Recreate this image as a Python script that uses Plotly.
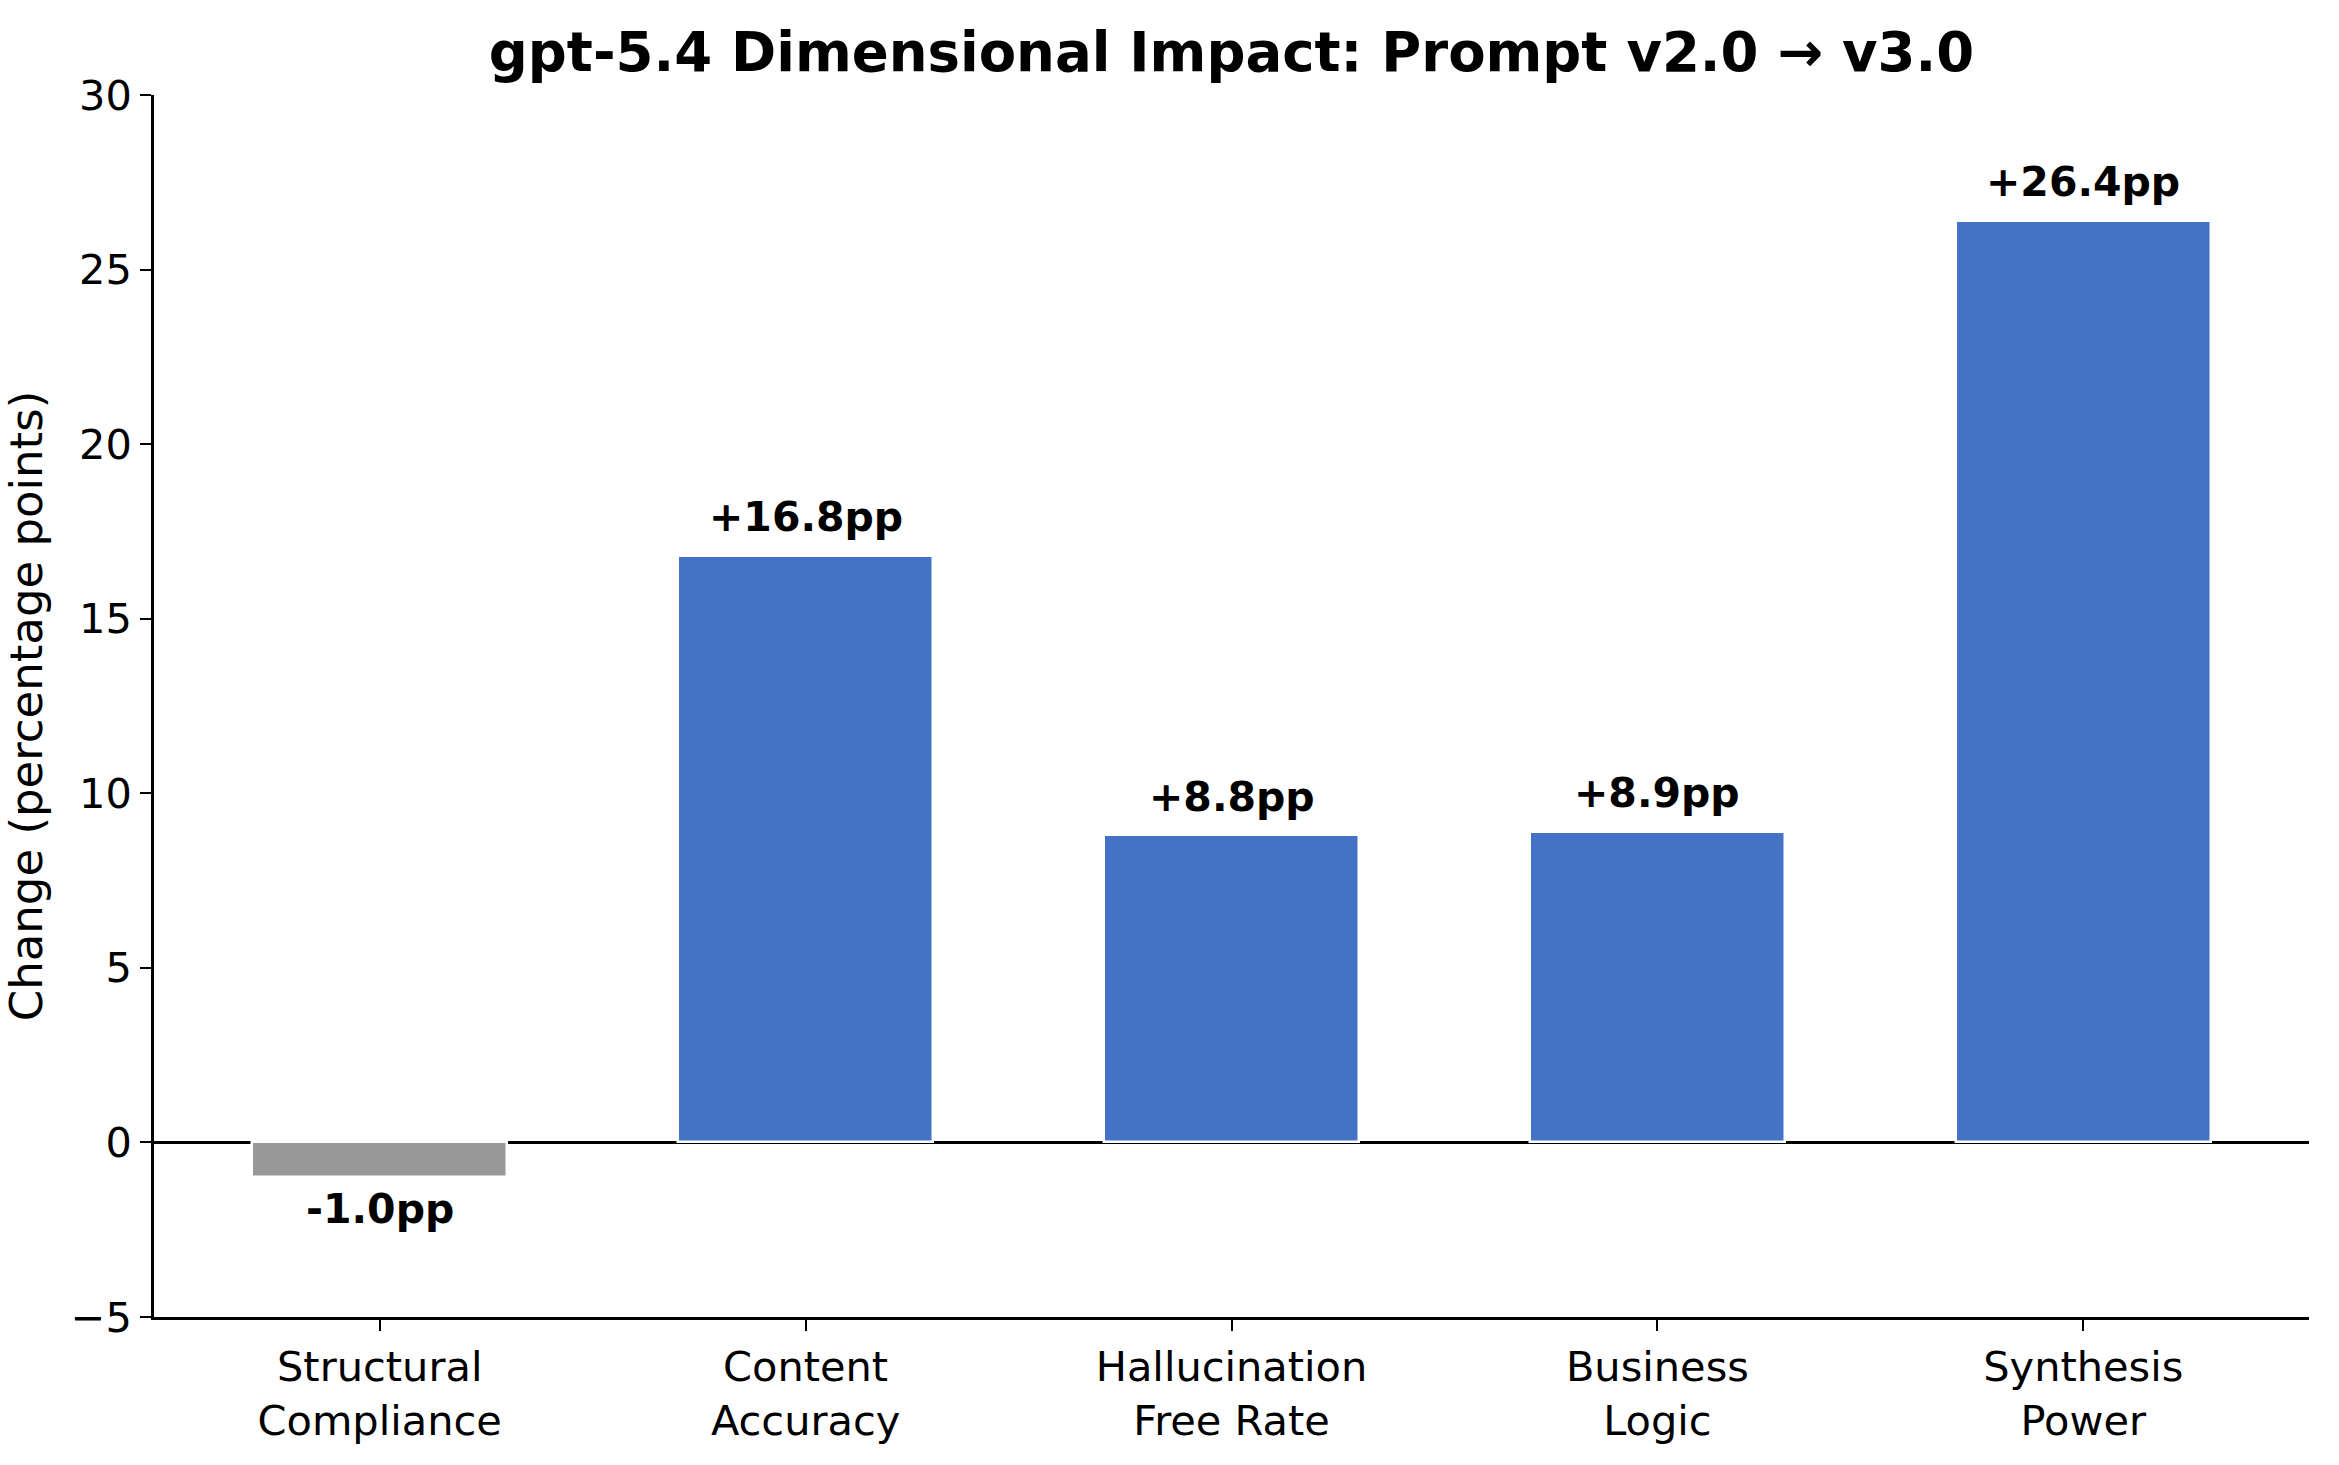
import plotly.graph_objects as go

# ---- data ----
categories = ["Structural\nCompliance", "Content\nAccuracy", "Hallucination\nFree Rate",
              "Business\nLogic", "Synthesis\nPower"]
values = [-1.0, 16.8, 8.8, 8.9, 26.4]
y_ticks = [-5, 0, 5, 10, 15, 20, 25, 30]

title_text = "gpt-5.4 Dimensional Impact: Prompt v2.0 \u2192 v3.0"
y_label = "Change (percentage points)"

POS_COLOR = "#4472C4"
NEG_COLOR = "#999999"
FONT = "DejaVu Sans"

x_labels = [c.replace("\n", "<br>") for c in categories]
colors = [POS_COLOR if v >= 0 else NEG_COLOR for v in values]

fig = go.Figure()
fig.add_trace(go.Bar(
    x=list(range(len(values))),
    y=values,
    width=0.6,
    marker=dict(color=colors, line=dict(color="white", width=2.5)),
    hoverinfo="skip",
))

label_font = dict(family=FONT, size=41, color="black", weight="bold")
annotations = []
for i, v in enumerate(values):
    label = f"{v:+.1f}pp"
    if v >= 0:
        annotations.append(dict(x=i, y=v + 0.5, xref="x", yref="y", text=label,
                                showarrow=False, yanchor="bottom", xanchor="center",
                                yshift=-5, font=label_font))
    else:
        annotations.append(dict(x=i, y=v - 0.5, xref="x", yref="y", text=label,
                                showarrow=False, yanchor="top", xanchor="center",
                                yshift=12, font=label_font))

fig.update_layout(
    width=2339, height=1465,
    margin=dict(l=151, r=30, t=95, b=148, pad=0),
    paper_bgcolor="white", plot_bgcolor="white",
    showlegend=False,
    font=dict(family=FONT, color="black", size=41),
    title=dict(text=title_text, x=0.5, xref="paper",
               y=1 - 52 / 1465, yref="container", xanchor="center", yanchor="middle",
               font=dict(family=FONT, size=54.5, color="black", weight="bold")),
    annotations=annotations,
    bargap=0,
)

fig.update_xaxes(
    range=[-0.53, len(values) - 1 + 0.53],
    tickmode="array", tickvals=list(range(len(values))), ticktext=x_labels,
    showline=True, linecolor="black", linewidth=2.7,
    ticks="outside", ticklen=11, tickwidth=2.2, tickcolor="black",
    showgrid=False, zeroline=False,
    tickfont=dict(family=FONT, size=41.5, color="black"),
)
fig.update_yaxes(
    range=[y_ticks[0], y_ticks[-1]],
    tickmode="array", tickvals=y_ticks,
    showline=True, linecolor="black", linewidth=2.7,
    ticks="outside", ticklen=11, tickwidth=2.2, tickcolor="black",
    showgrid=False,
    zeroline=True, zerolinecolor="black", zerolinewidth=2.7,
    tickfont=dict(family=FONT, size=41.5, color="black"),
    title=dict(text=y_label, standoff=27, font=dict(family=FONT, size=45, color="black")),
)

fig.write_html("out.html")
